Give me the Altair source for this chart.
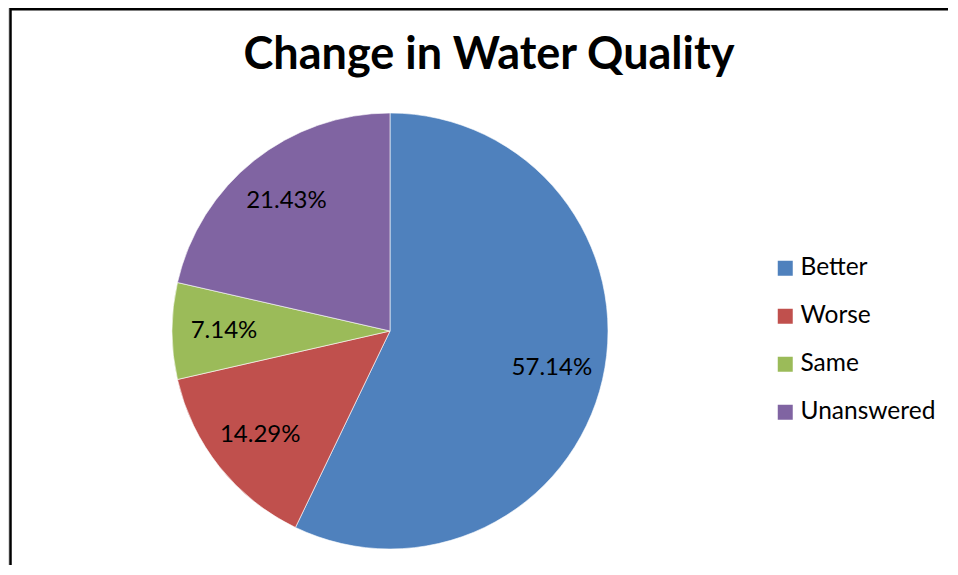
import altair as alt
import pandas as pd

categories = ["Better", "Worse", "Same", "Unanswered"]
values = [57.14, 14.29, 7.14, 21.43]
colors = ["#4F81BD", "#C0504D", "#9BBB59", "#8064A2"]
title_text = "Change in Water Quality"

df = pd.DataFrame({"category": categories, "value": values, "idx": list(range(len(categories)))})

CX, CY = 382, 323
R = 218

color_enc = alt.Color(
    "category:N",
    scale=alt.Scale(domain=categories, range=colors),
    sort=categories,
    legend=alt.Legend(
        title=None,
        orient="none",
        legendX=765,
        legendY=248,
        symbolType="square",
        symbolSize=225,
        symbolStrokeWidth=0,
        labelFont="Lato",
        labelFontSize=24.5,
        labelColor="#000000",
        labelOffset=3,
        rowPadding=23,
    ),
)

base = alt.Chart(df).encode(
    theta=alt.Theta("value:Q", stack=True),
    order=alt.Order("idx:Q"),
    x=alt.value(CX),
    y=alt.value(CY),
)

pie = base.mark_arc(outerRadius=R, stroke="#ffffff", strokeWidth=0.6).encode(color=color_enc)

labels = base.transform_calculate(
    label="format(datum.value, '.2f') + '%'"
).mark_text(radius=166, font="Lato", fontSize=24, color="#000000").encode(text="label:N")

title = alt.Chart(pd.DataFrame({"t": [title_text]})).mark_text(
    font="Lato", fontWeight="bold", fontSize=45, color="#000000", baseline="alphabetic", align="center"
).encode(text="t:N", x=alt.value(481), y=alt.value(61))

frame = alt.Chart(pd.DataFrame({"a": [0]})).mark_rect(
    fill=None, stroke="#000000", strokeWidth=2.5
).encode(x=alt.value(2.5), x2=alt.value(1100), y=alt.value(1.2), y2=alt.value(800))

chart = alt.layer(frame, pie, labels, title).properties(
    width=940, height=557, padding=0, autosize=alt.AutoSizeParams(type="none")
).configure_view(stroke=None).configure(background="#ffffff")

chart.save("out.html", embed_options={"renderer": "svg", "actions": False})
